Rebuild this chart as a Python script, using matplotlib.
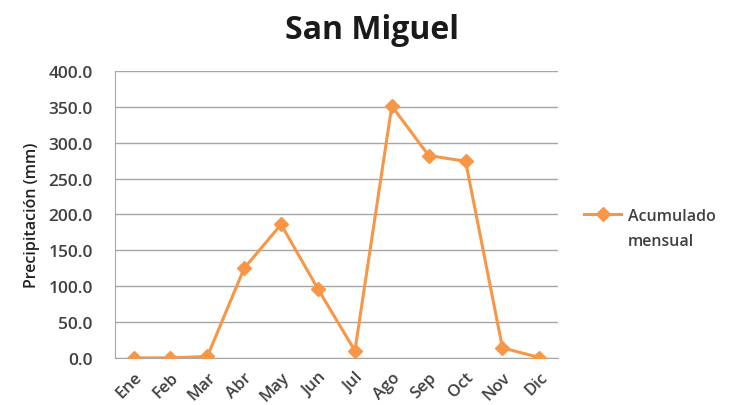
import matplotlib
matplotlib.use("Agg")
import matplotlib.pyplot as plt

months = ["Ene", "Feb", "Mar", "Abr", "May", "Jun", "Jul", "Ago", "Sep", "Oct", "Nov", "Dic"]
precip = [0.0, 0.0, 2.0, 125.0, 186.0, 96.0, 10.0, 351.0, 282.0, 274.0, 14.0, 0.5]
yticks = [0, 50, 100, 150, 200, 250, 300, 350, 400]
series_label = ["Acumulado", "mensual"]

plt.rcParams['font.family'] = ['Open Sans', 'DejaVu Sans']
orange = "#F79646"
txt = "#404040"

fig = plt.figure(figsize=(7.33, 4.06), dpi=100)
ax = fig.add_axes([0.157, 0.116, 0.604, 0.707])
x = list(range(len(months)))
ax.plot(x, precip, color=orange, lw=2.2, marker="D", ms=7, mec=orange, mfc=orange,
        label=series_label[0], zorder=3)
ax.set_xlim(-0.5, len(months) - 0.5)
ax.set_ylim(0, 400)
ax.set_yticks(yticks)
ax.set_yticklabels([f"{v:.1f}" for v in yticks], fontsize=12.5, color=txt, fontweight="semibold")
ax.set_xticks(x)
ax.set_xticklabels(months, rotation=45, ha="right", rotation_mode="anchor", fontsize=12,
                   color=txt, fontweight="semibold")
ax.tick_params(axis="y", length=0, pad=16)
ax.tick_params(axis="x", length=0, pad=8)
ax.grid(axis="y", color="#A6A6A6", lw=1.0)
ax.set_axisbelow(True)
for s in ["top", "right"]:
    ax.spines[s].set_visible(False)
ax.spines["left"].set_color("#A6A6A6")
ax.spines["bottom"].set_color("#A6A6A6")
ax.set_ylabel("Precipitación (mm)", fontsize=11.5, color="#202020", fontweight="semibold", labelpad=6)
fig.text(0.508, 0.926, "San Miguel", ha="center", va="center", fontsize=23, fontweight="bold", color="#1a1a1a")
leg = ax.legend(loc="center left", bbox_to_anchor=(1.027, 0.495), frameon=False,
                handlelength=2.3, handletextpad=0.45, labelcolor=txt,
                prop={"weight": "semibold", "size": 11.5})
fig.text(628 / 733, 1 - 242 / 406, series_label[1], ha="left", va="center",
         fontsize=11.5, fontweight="semibold", color=txt)
fig.savefig("out.png", dpi=100)
